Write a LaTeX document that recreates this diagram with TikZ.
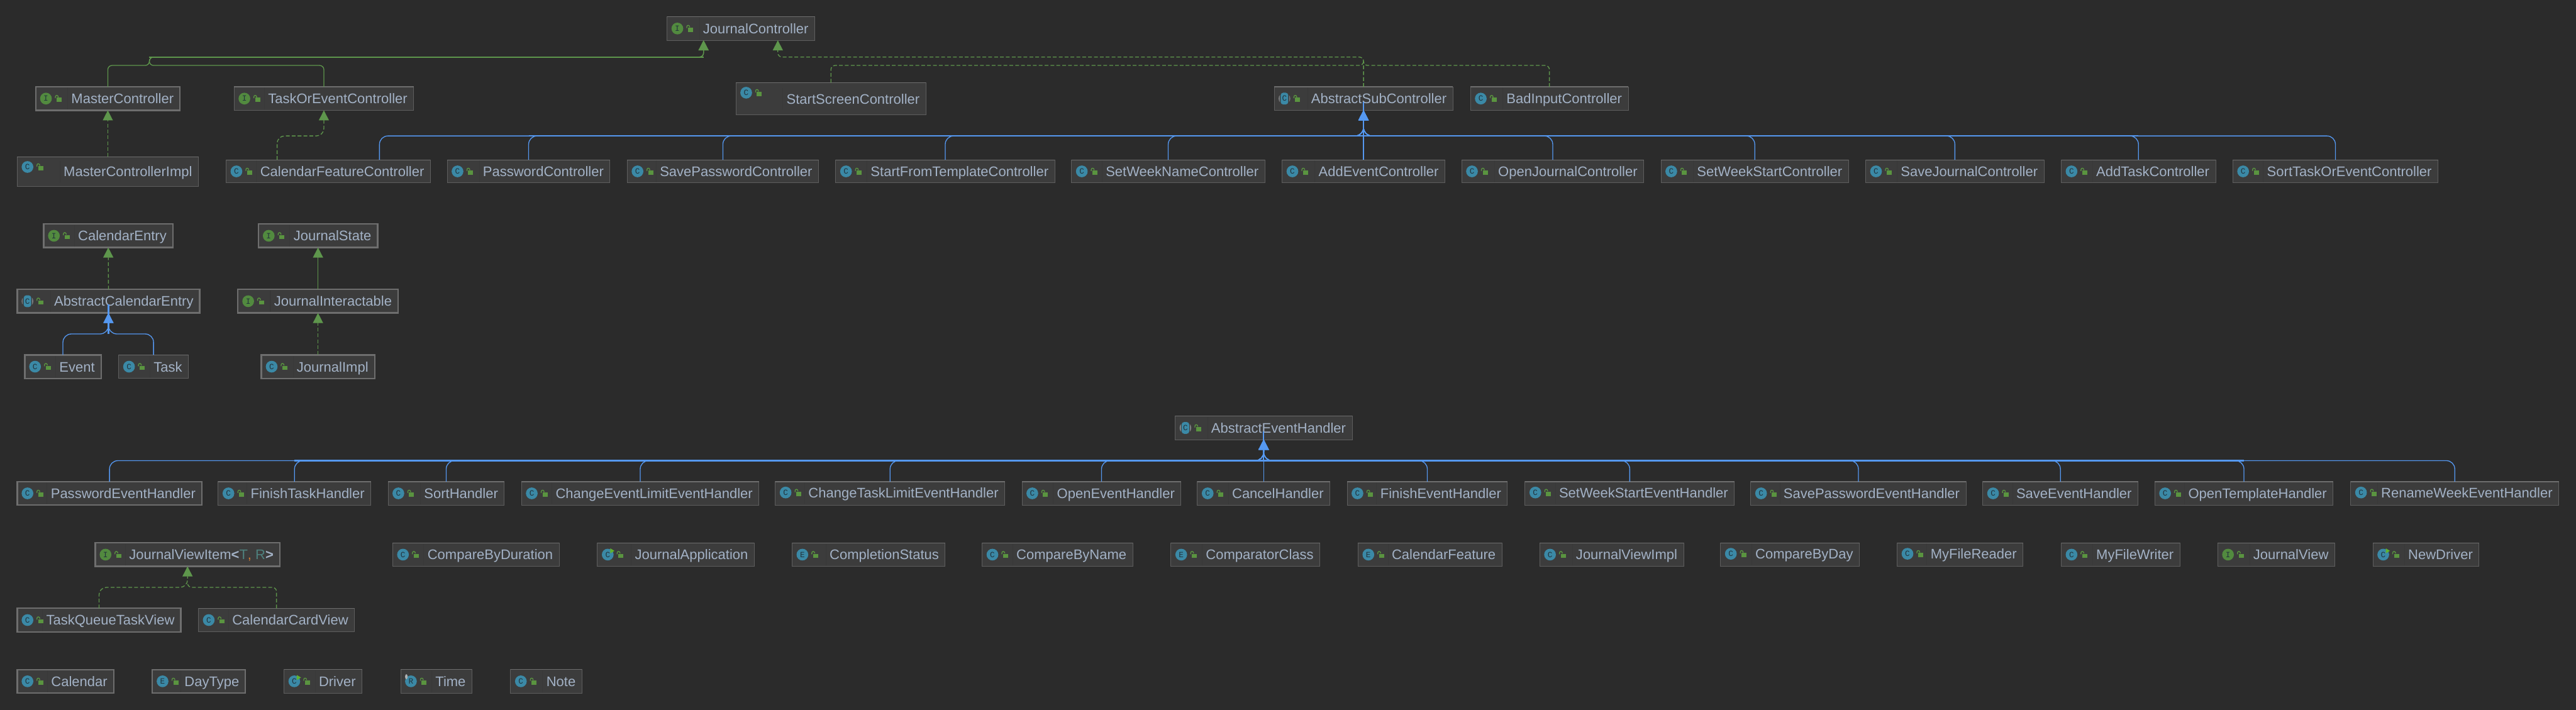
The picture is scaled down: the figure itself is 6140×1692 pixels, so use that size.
\documentclass[tikz,border=0pt]{standalone}
\usepackage{fontspec}
\setmainfont{Liberation Sans}
\newfontfamily\iconmono{Liberation Mono}
\usetikzlibrary{arrows.meta,calc}
\definecolor{bgc}{HTML}{2B2B2B}
\definecolor{boxc}{HTML}{3C3C3C}
\definecolor{sepc}{HTML}{383838}
\definecolor{edgec}{HTML}{5E5E5E}
\definecolor{topc}{HTML}{6E6E6E}
\definecolor{txtc}{HTML}{A3B2C6}
\definecolor{tealc}{HTML}{3B89A6}
\definecolor{intc}{HTML}{528A3F}
\definecolor{lockc}{HTML}{5A9440}
\definecolor{runc}{HTML}{5FB32F}
\definecolor{grayc}{HTML}{7B7F82}
\definecolor{darkc}{HTML}{22333C}
\definecolor{gblue}{HTML}{5598F0}
\definecolor{ggreen}{HTML}{5E964C}
\definecolor{tpar}{HTML}{4E807D}
\definecolor{tcom}{HTML}{CC7832}
\newcommand\lblfont{\fontsize{33}{40}\selectfont}
\tikzset{
  x=1pt,y=-1pt,
  classbox/.style={draw=edgec,fill=boxc,line width=1.5pt,rectangle,inner xsep=15pt,inner ysep=0pt,outer sep=0pt,text=txtc,font=\lblfont},
  sel/.style={draw=topc,line width=3.5pt},
  iconletter/.style={inner sep=0pt,text=darkc,font=\iconmono\fontsize{19}{19}\selectfont},
  topedge/.style={draw=topc,line width=2pt},
  extblue/.style={draw=gblue,line width=2pt,rounded corners=20pt,-{Triangle[length=24pt,width=24pt,fill=gblue]}},
  busblue/.style={draw=gblue,line width=3.2pt},
  solidgreen/.style={draw=ggreen,line width=2pt,rounded corners=10pt,-{Triangle[length=24pt,width=24pt,fill=ggreen]}},
  dashgreen/.style={solidgreen,dash pattern=on 9pt off 5pt},
  dashplain/.style={draw=ggreen,line width=2pt,rounded corners=10pt,dash pattern=on 9pt off 5pt},
  greenbus/.style={draw=ggreen,line width=2.6pt},
}
\newcommand\kindiconC[3]{\fill[tealc] (#1,#2) circle[radius=14pt];\node[iconletter] (#3ic) at (#1,#2) {C};}
\newcommand\kindiconI[3]{\fill[intc] (#1,#2) circle[radius=14pt];\node[iconletter] (#3ic) at (#1,#2) {I};}
\newcommand\kindiconE[3]{\fill[tealc] (#1,#2) circle[radius=14pt];\node[iconletter] (#3ic) at (#1,#2) {E};}
\newcommand\kindiconA[3]{\fill[grayc] (#1,#2) circle[radius=14pt];
  \fill[boxc] ($(#1,#2)+(-11,-15)$) rectangle ($(#1,#2)+(11,15)$);
  \fill[tealc,rounded corners=6pt] ($(#1,#2)+(-9,-14)$) rectangle ($(#1,#2)+(9,14)$);
  \node[iconletter] (#3ic) at (#1,#2) {C};}
\newcommand\kindiconR[3]{\fill[tealc] (#1,#2) circle[radius=14pt];
  \fill[grayc!60!white] ($(#1,#2)+(-11,-11)$) ellipse[x radius=3pt,y radius=6pt];
  \node[iconletter] (#3ic) at (#1,#2) {R};}
\newcommand\kindiconD[3]{\fill[tealc] (#1,#2) circle[radius=14pt];\node[iconletter] (#3ic) at (#1,#2) {C};
  \fill[runc] ($(#1,#2)+(6,-15)$) -- ($(#1,#2)+(16,-9)$) -- ($(#1,#2)+(6,-3)$) -- cycle;}
\gdef\myrs{0}
\newcommand\ubox[8][]{%
  \pgfmathsetmacro\bw{#5-#3}\pgfmathsetmacro\bh{#6-#4}\pgfmathsetmacro\tw{\bw-30}%
  \pgfmathsetmacro\hgt{30+\myrs}\pgfmathsetmacro\dpt{6-\myrs}%
  \pgfmathsetmacro\cy{\bh>60 ? #4+24 : (#4+#6)/2+\myrs}%
  \pgfmathsetmacro\cx{#3+24.5}\pgfmathsetmacro\bx{#3+50}\pgfmathsetmacro\by{\cy-2}%
  \pgfmathsetmacro\bxx{\bx+12}\pgfmathsetmacro\byy{\by+10}%
  \pgfmathsetmacro\sa{\bx-3}\pgfmathsetmacro\sb{\bx+4}\pgfmathsetmacro\ya{\by+1}\pgfmathsetmacro\yb{\by-2}\pgfmathsetmacro\yc{\by-7}\pgfmathsetmacro\yd{\by-1}%
  \node[classbox,#1,minimum width=\bw pt,minimum height=\bh pt,text height=\hgt pt,text depth=\dpt pt,anchor=north west] (#2) at (#3,#4) {\hbox to \tw pt{\hss\smash{\textcolor{sepc}{\rule[-14pt]{1.5pt}{52pt}}}\kern8pt #8}};
  \draw[topedge] (#2.north west) -- (#2.north east);
  \csname kindicon#7\endcsname{\cx}{\cy}{#2}%
  \fill[lockc] (\bx,\by) rectangle (\bxx,\byy);
  \draw[lockc,line width=2pt] (\sa,\ya) -- (\sa,\yb) .. controls (\sa,\yc) and (\sb,\yc) .. (\sb,\yd);
  \gdef\myrs{0}%
}
\newcommand\rbox{\gdef\myrs{-2}\ubox}
\begin{document}
\begin{tikzpicture}
\fill[bgc] (0,0) rectangle (6140,1692);
\useasboundingbox (0,0) rectangle (6140,1692);
% controllers
\ubox{JC}{1590}{40}{1942}{96}{I}{JournalController}
\ubox[sel]{MC}{85}{207}{429}{263}{I}{MasterController}
\ubox{TC}{558}{207}{986}{263}{I}{TaskOrEventController}
\ubox{SSC}{1754}{197}{2207}{274}{C}{StartScreenController}
\ubox{ASC}{3037}{207}{3463}{263}{A}{AbstractSubController}
\ubox{BIC}{3505}{207}{3881}{263}{C}{BadInputController}
\ubox{MCI}{41}{374}{473}{444}{C}{MasterControllerImpl}
\ubox{CFC}{539}{381}{1026}{436}{C}{CalendarFeatureController}
\ubox{PC}{1066}{381}{1454}{436}{C}{PasswordController}
\ubox{SPC}{1495}{381}{1951}{436}{C}{SavePasswordController}
\ubox{SFT}{1992}{381}{2514}{436}{C}{StartFromTemplateController}
\ubox{SWN}{2554}{381}{3015}{436}{C}{SetWeekNameController}
\ubox{AEC}{3056}{381}{3444}{436}{C}{AddEventController}
\ubox{OJC}{3484}{381}{3918}{436}{C}{OpenJournalController}
\ubox{SWS}{3959}{381}{4406}{436}{C}{SetWeekStartController}
\ubox{SJC}{4447}{381}{4872}{436}{C}{SaveJournalController}
\ubox{ATC}{4913}{381}{5281}{436}{C}{AddTaskController}
\ubox{STE}{5322}{381}{5811}{436}{C}{SortTaskOrEventController}
% model
\ubox[sel]{CE}{104}{534}{412}{590}{I}{CalendarEntry}
\ubox[sel]{JS}{616}{534}{900}{590}{I}{JournalState}
\ubox[sel]{ACE}{41}{690}{476}{746}{A}{AbstractCalendarEntry}
\ubox[sel]{JI}{567}{690}{949}{746}{I}{JournalInteractable}
\ubox[sel]{EV}{59}{846}{241}{902}{C}{Event}
\ubox{TK}{283}{846}{449}{902}{C}{Task}
\ubox[sel]{JIM}{623}{846}{893}{902}{C}{JournalImpl}
% handlers
\ubox{AEH}{2801}{992}{3223}{1048}{A}{AbstractEventHandler}
\ubox[sel]{PEH}{41}{1148}{481}{1204}{C}{PasswordEventHandler}
\ubox{FTH}{520}{1148}{884}{1204}{C}{FinishTaskHandler}
\ubox{SH}{925}{1148}{1202}{1204}{C}{SortHandler}
\ubox{CEL}{1243}{1148}{1809}{1204}{C}{ChangeEventLimitEventHandler}
\rbox{CTL}{1848}{1148}{2395}{1204}{C}{ChangeTaskLimitEventHandler}
\ubox{OEH}{2436}{1148}{2815}{1204}{C}{OpenEventHandler}
\ubox{CH}{2854}{1148}{3170}{1204}{C}{CancelHandler}
\ubox{FEH}{3211}{1148}{3593}{1204}{C}{FinishEventHandler}
\rbox{SWE}{3635}{1148}{4134}{1204}{C}{SetWeekStartEventHandler}
\ubox{SPE}{4173}{1148}{4686}{1204}{C}{SavePasswordEventHandler}
\ubox{SEH}{4726}{1148}{5096}{1204}{C}{SaveEventHandler}
\ubox{OTH}{5136}{1148}{5561}{1204}{C}{OpenTemplateHandler}
\rbox{RWE}{5603}{1148}{6099}{1204}{C}{RenameWeekEventHandler}
% views and loose classes
\ubox[sel]{JVI}{227}{1294}{667}{1350}{I}{JournalViewItem{\bfseries<}\textcolor{tpar}{T}\textcolor{tcom}{,} \textcolor{tpar}{R}{\bfseries>}}
\ubox{CBD}{936}{1294}{1333}{1350}{C}{CompareByDuration}
\ubox{JAP}{1424}{1294}{1798}{1350}{D}{JournalApplication}
\ubox{CST}{1888}{1294}{2253}{1350}{E}{CompletionStatus}
\ubox{CBN}{2341}{1294}{2700}{1350}{C}{CompareByName}
\ubox{CCL}{2791}{1294}{3146}{1350}{E}{ComparatorClass}
\ubox{CF}{3237}{1294}{3580}{1350}{E}{CalendarFeature}
\ubox{JVM}{3670}{1294}{4013}{1350}{C}{JournalViewImpl}
\rbox{CDY}{4101}{1294}{4432}{1350}{C}{CompareByDay}
\rbox{MFR}{4522}{1294}{4822}{1350}{C}{MyFileReader}
\ubox{MFW}{4913}{1294}{5196}{1350}{C}{MyFileWriter}
\ubox{JV}{5286}{1294}{5565}{1350}{I}{JournalView}
\ubox{ND}{5656}{1294}{5909}{1350}{D}{NewDriver}
\ubox[sel]{TQ}{41}{1450}{431}{1506}{C}{TaskQueueTaskView}
\ubox{CCV}{473}{1450}{845}{1506}{C}{CalendarCardView}
\ubox[sel]{CAL}{41}{1596}{271}{1652}{C}{Calendar}
\ubox[sel]{DT}{363}{1596}{585}{1652}{E}{DayType}
\ubox{DR}{677}{1596}{863}{1652}{D}{Driver}
\ubox{TM}{955}{1596}{1125}{1652}{R}{Time}
\ubox{NT}{1217}{1596}{1387}{1652}{C}{Note}
% routing levels
\coordinate (rowA) at (0,136);
\coordinate (rowB) at (0,156);
\coordinate (rowJ) at (0,146);
\coordinate (busC) at (0,324);
\coordinate (busM) at (0,796);
\coordinate (busH) at (0,1098);
\coordinate (busV) at (0,1400);
\coordinate (busVJ) at (0,1388);
\coordinate (jcL) at ([xshift=-89pt]JC.south);
\coordinate (jcR) at ([xshift=88pt]JC.south);
\coordinate (cfB) at ([xshift=122pt]CFC.north);
\coordinate (cfG) at ([xshift=-122pt]CFC.north);
\coordinate (mjoin) at (356,146);
% solid green to JournalController
\draw[greenbus,rounded corners=10pt] (mjoin |- rowA) -- (jcL |- rowA);
\draw[solidgreen] (MC.north) |- (mjoin |- rowB) -- (mjoin |- rowA) -- (jcL |- rowA) -- (jcL);
\draw[solidgreen] (TC.north) |- (mjoin |- rowB) -- (mjoin |- rowA) -- (jcL |- rowA) -- (jcL);
% dashed green to JournalController
\draw[dashgreen] (ASC.north) -- (ASC.north |- rowA) -- (jcR |- rowA) -- (jcR);
\draw[dashplain] (SSC.north) |- (ASC.north |- rowB) -- (ASC.north |- rowJ);
\draw[dashplain] (BIC.north) |- (ASC.north |- rowB) -- (ASC.north |- rowJ);
% single links
\draw[dashgreen] (MCI.north) -- (MC.south);
\draw[dashgreen,rounded corners=18pt] (cfG) |- (TC.south |- busC) -- (TC.south);
\draw[dashgreen] (ACE.north) -- (CE.south);
\draw[solidgreen] (JI.north) -- (JS.south);
\draw[dashgreen] (JIM.north) -- (JI.south);
\draw[dashgreen,rounded corners=18pt] (TQ.north) |- (JVI.south |- busV) -- (JVI.south);
\draw[dashplain,rounded corners=10pt] (CCV.north) |- (JVI.south |- busV) -- (JVI.south |- busVJ);
% blue: sub controllers
\draw[busblue] (PC.north |- busC) -- (ATC.north |- busC);
\draw[busblue] (AEC.north |- busC) -- ([yshift=20pt]ASC.south);
\draw[extblue] (cfB) |- (ASC.south |- busC) -- (ASC.south);
\foreach \c in {PC,SPC,SFT,SWN,OJC,SWS,SJC,ATC,STE}
  \draw[extblue] (\c.north) |- (ASC.south |- busC) -- (ASC.south);
\draw[extblue] (AEC.north) -- (ASC.south);
% blue: calendar entries
\draw[busblue] (ACE.south |- busM) -- ([yshift=20pt]ACE.south);
\draw[extblue] (EV.north) |- (ACE.south |- busM) -- (ACE.south);
\draw[extblue] (TK.north) |- (ACE.south |- busM) -- (ACE.south);
% blue: handlers
\draw[busblue] (FTH.north |- busH) -- (OTH.north |- busH);
\draw[busblue] (CH.north |- busH) -- ([yshift=20pt]AEH.south);
\foreach \c in {PEH,FTH,SH,CEL,CTL,OEH,FEH,SWE,SPE,SEH,OTH,RWE}
  \draw[extblue] (\c.north) |- (AEH.south |- busH) -- (AEH.south);
\draw[extblue] (CH.north) -- (AEH.south);
\end{tikzpicture}
\end{document}
